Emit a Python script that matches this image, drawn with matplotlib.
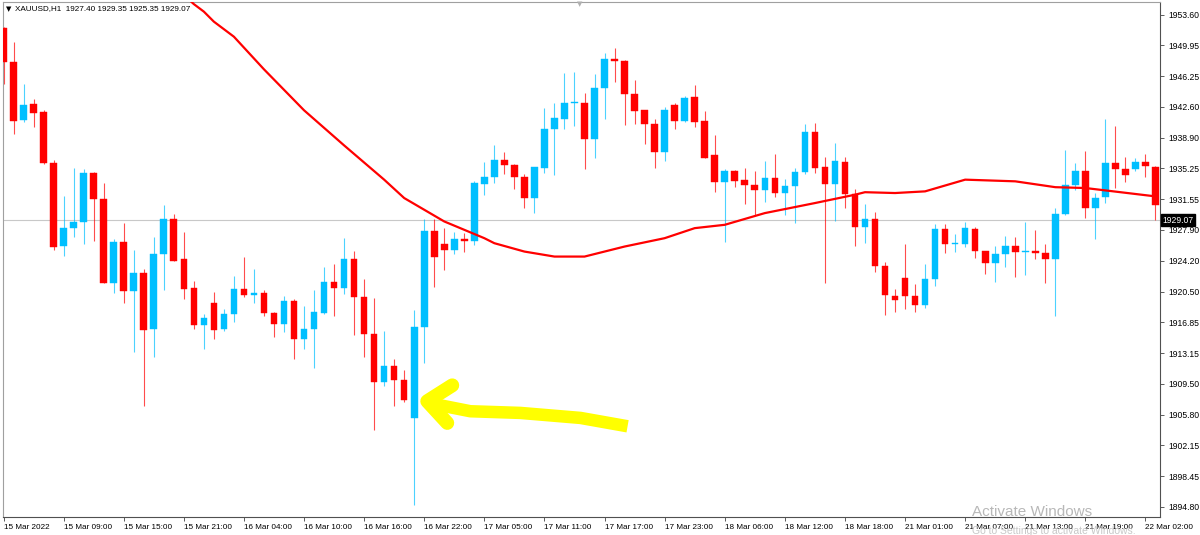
import numpy as np
import matplotlib.pyplot as plt
from matplotlib.transforms import blended_transform_factory

# XAUUSD H1 candles (bar index = hour slot)
opens = [1952.01, 1947.95, 1941.04, 1942.92, 1942.00, 1935.90, 1926.00, 1928.15, 1928.80, 1934.66,
         1931.55, 1921.57, 1926.41, 1920.58, 1922.70, 1916.00, 1925.01, 1929.16, 1924.37, 1920.90,
         1916.51, 1919.11, 1916.00, 1917.83, 1920.82, 1920.13, 1920.38, 1917.98, 1916.63, 1919.38,
         1914.87, 1916.03, 1917.98, 1921.66, 1920.97, 1924.44, 1919.86, 1915.47, 1909.65, 1911.60,
         1909.93, 1905.42, 1916.27, 1927.79, 1926.17, 1925.45, 1926.84, 1926.60, 1933.38, 1934.26,
         1936.22, 1935.69, 1934.26, 1931.67, 1935.33, 1939.93, 1941.16, 1943.04, 1943.11, 1938.80,
         1944.91, 1948.34, 1948.14, 1944.15, 1942.20, 1940.53, 1937.21, 1942.80, 1940.92, 1943.76,
         1940.86, 1936.85, 1933.62, 1934.90, 1933.86, 1933.26, 1932.70, 1934.06, 1932.27, 1933.18,
         1934.85, 1939.64, 1935.45, 1933.35, 1936.05, 1932.19, 1928.20, 1929.23, 1923.61, 1920.02,
         1922.17, 1920.02, 1918.94, 1922.01, 1927.96, 1926.20, 1926.20, 1927.96, 1925.33, 1923.89,
         1924.97, 1925.96, 1925.25, 1925.33, 1925.16, 1924.41, 1929.76, 1933.23, 1934.94, 1930.47,
         1931.86, 1935.86, 1935.18, 1935.18, 1935.98, 1935.45]
highs = [1952.20, 1950.41, 1945.31, 1943.55, 1942.24, 1936.25, 1931.95, 1935.26, 1935.14, 1934.82,
         1933.47, 1926.84, 1928.75, 1925.48, 1923.25, 1927.08, 1930.87, 1929.79, 1927.67, 1921.81,
         1917.83, 1920.42, 1918.39, 1922.37, 1924.68, 1923.25, 1920.70, 1918.10, 1920.02, 1919.62,
         1918.78, 1920.70, 1923.41, 1923.77, 1926.88, 1925.40, 1922.01, 1919.70, 1915.79, 1912.41,
         1911.13, 1918.31, 1929.16, 1929.16, 1928.08, 1927.60, 1927.56, 1933.74, 1936.01, 1938.05,
         1937.25, 1935.78, 1934.54, 1935.45, 1942.51, 1943.04, 1946.63, 1946.82, 1944.31, 1946.54,
         1949.02, 1949.62, 1948.22, 1945.83, 1942.24, 1941.12, 1942.63, 1943.04, 1943.91, 1945.23,
         1942.08, 1939.21, 1935.18, 1935.02, 1935.26, 1934.94, 1936.13, 1936.97, 1933.98, 1935.26,
         1940.53, 1940.72, 1936.65, 1938.25, 1936.65, 1932.78, 1930.99, 1930.00, 1924.08, 1920.78,
         1926.17, 1921.38, 1923.81, 1928.56, 1928.56, 1927.40, 1928.84, 1928.20, 1925.37, 1925.96,
         1927.16, 1927.08, 1928.80, 1927.88, 1926.20, 1930.47, 1937.45, 1935.93, 1937.33, 1932.27,
         1941.12, 1940.32, 1936.58, 1936.46, 1936.94, 1935.54]
lows = [1945.35, 1939.33, 1940.84, 1940.24, 1935.78, 1925.48, 1924.77, 1927.00, 1926.20, 1926.60,
        1921.53, 1920.38, 1919.18, 1913.32, 1906.82, 1912.72, 1920.70, 1924.17, 1919.59, 1916.00,
        1913.64, 1914.84, 1915.83, 1916.91, 1919.82, 1919.11, 1917.62, 1915.04, 1915.71, 1912.41,
        1913.60, 1911.40, 1917.83, 1917.62, 1920.18, 1915.28, 1912.65, 1903.95, 1909.21, 1906.85,
        1907.33, 1894.97, 1911.93, 1921.09, 1923.09, 1925.01, 1925.28, 1926.08, 1932.07, 1933.54,
        1934.58, 1932.78, 1930.47, 1929.88, 1934.73, 1934.46, 1939.93, 1940.36, 1935.18, 1936.53,
        1941.12, 1945.62, 1940.44, 1940.56, 1938.17, 1935.26, 1936.17, 1939.96, 1940.84, 1940.24,
        1936.46, 1932.46, 1926.48, 1933.06, 1930.99, 1929.67, 1931.26, 1931.79, 1929.67, 1928.75,
        1934.54, 1934.66, 1921.57, 1928.99, 1930.55, 1926.00, 1926.29, 1922.89, 1917.74, 1918.03,
        1918.39, 1918.10, 1918.58, 1921.18, 1925.09, 1925.25, 1925.88, 1924.56, 1922.65, 1921.69,
        1923.49, 1922.29, 1922.46, 1924.41, 1921.50, 1917.62, 1929.67, 1932.66, 1929.35, 1926.80,
        1931.07, 1932.94, 1933.66, 1934.97, 1934.26, 1929.07]
closes = [1947.95, 1940.96, 1942.80, 1941.91, 1935.86, 1925.88, 1928.08, 1928.87, 1934.66, 1931.59,
          1921.57, 1926.41, 1920.58, 1922.70, 1915.91, 1925.01, 1929.19, 1924.17, 1920.85, 1916.55,
          1917.31, 1915.91, 1917.83, 1920.85, 1920.10, 1920.30, 1917.98, 1916.59, 1919.38, 1914.84,
          1916.03, 1918.03, 1921.66, 1920.97, 1924.44, 1919.86, 1915.47, 1909.65, 1911.60, 1909.93,
          1907.54, 1916.27, 1927.79, 1924.68, 1925.48, 1926.84, 1926.60, 1933.47, 1934.26, 1936.25,
          1935.66, 1934.26, 1931.74, 1935.38, 1939.96, 1941.24, 1943.04, 1943.11, 1938.73, 1944.91,
          1948.34, 1948.10, 1944.15, 1942.15, 1940.53, 1937.21, 1942.27, 1940.96, 1943.71, 1940.84,
          1936.55, 1933.62, 1934.90, 1933.78, 1933.26, 1932.70, 1934.06, 1932.31, 1933.18, 1934.85,
          1939.64, 1935.33, 1933.42, 1936.13, 1932.19, 1928.24, 1929.23, 1923.57, 1920.06, 1919.47,
          1919.98, 1918.96, 1922.01, 1927.96, 1926.20, 1926.29, 1928.08, 1925.37, 1923.97, 1924.97,
          1925.96, 1925.21, 1925.33, 1925.16, 1924.41, 1929.76, 1933.23, 1934.94, 1930.47, 1931.74,
          1935.86, 1935.14, 1934.50, 1935.98, 1935.54, 1930.91]

# moving average (red line), sampled at some bars
ma_idx = [18, 19, 20, 21, 23, 26, 30, 34, 38, 40, 42, 44, 46, 48, 49, 52, 55, 58, 62, 66, 69,
          72, 76, 81, 85, 86, 89, 92, 96, 101, 105, 108, 115]
ma_val = [1956.0, 1954.9, 1954.0, 1952.8, 1951.0, 1947.1, 1942.2, 1938.0, 1933.9, 1931.7, 1930.3,
          1928.9, 1927.9, 1926.9, 1926.3, 1925.3, 1924.7, 1924.7, 1925.9, 1926.9, 1928.1,
          1928.5, 1929.9, 1931.1, 1932.1, 1932.4, 1932.3, 1932.5, 1933.9, 1933.7, 1933.0,
          1932.9, 1931.9]

price_ticks = [1953.60, 1949.95, 1946.25, 1942.60, 1938.90, 1935.25, 1931.55, 1927.90, 1924.20,
               1920.50, 1916.85, 1913.15, 1909.50, 1905.80, 1902.15, 1898.45, 1894.80]
time_labels = ["15 Mar 2022", "15 Mar 09:00", "15 Mar 15:00", "15 Mar 21:00", "16 Mar 04:00",
               "16 Mar 10:00", "16 Mar 16:00", "16 Mar 22:00", "17 Mar 05:00", "17 Mar 11:00",
               "17 Mar 17:00", "17 Mar 23:00", "18 Mar 06:00", "18 Mar 12:00", "18 Mar 18:00",
               "21 Mar 01:00", "21 Mar 07:00", "21 Mar 13:00", "21 Mar 19:00", "22 Mar 02:00"]
last_price = 1929.07

UP = "#00bfff"
DOWN = "#ff0000"
FONT = ["Liberation Sans", "DejaVu Sans"]
FS = 5.9

W, H = 1200, 535
fig = plt.figure(figsize=(W / 100, H / 100), dpi=100)
fig.patch.set_facecolor("white")
ax = fig.add_axes([3 / W, 1 - 517 / H, (1160 - 3) / W, (517 - 2) / H])

o = np.array(opens)
h = np.array(highs)
l = np.array(lows)
c = np.array(closes)
x = np.arange(len(o))
up = c >= o
cols = np.where(up, UP, DOWN)

# current price line
ax.axhline(last_price, color="#c8c8c8", lw=0.8, zorder=1)

ax.vlines(x, l, h, colors=cols, lw=0.8, alpha=0.7, zorder=2)
body_lo = np.minimum(o, c)
body_h = np.maximum(np.abs(c - o), 0.15)
ax.bar(x, body_h, bottom=body_lo, width=0.66, color=cols, edgecolor=cols, lw=0.3, zorder=3)

ax.plot(ma_idx, ma_val, color="#ff0000", lw=1.6, zorder=4)

# hand drawn yellow arrow
ax.plot([44.8, 42.3, 44.3], [1909.3, 1907.4, 1904.8], color="#ffff00", lw=10,
        solid_capstyle="round", solid_joinstyle="round", zorder=5)
ax.plot([42.8, 46.6, 51.6, 57.6, 62.3], [1907.1, 1906.2, 1906.0, 1905.4, 1904.4],
        color="#ffff00", lw=9, solid_capstyle="butt", solid_joinstyle="round", zorder=5)

ax.set_xlim(-0.05, 115.45)
ax.set_ylim(1893.55, 1955.15)

ax.yaxis.tick_right()
ax.set_yticks(price_ticks)
ax.set_yticklabels(["%.2f" % v for v in price_ticks], fontsize=6.2, family=FONT)
ax.set_xticks(np.arange(0, 6 * len(time_labels), 6))
ax.set_xticklabels(time_labels, fontsize=FS, ha="left", family=FONT)
ax.tick_params(axis="both", length=3, width=0.6, color="#404040", pad=2)
ax.tick_params(axis="y", pad=3)

for s in ["left", "top"]:
    ax.spines[s].set_color("#a0a0a0")
    ax.spines[s].set_linewidth(0.8)
for s in ["right", "bottom"]:
    ax.spines[s].set_color("#505050")
    ax.spines[s].set_linewidth(0.8)

tr = blended_transform_factory(ax.transAxes, ax.transData)
ax.text(1.002, last_price, "%.2f" % last_price, transform=tr, ha="left", va="center",
        fontsize=6.2, color="white", family=FONT,
        bbox=dict(boxstyle="square,pad=0.2", fc="black", ec="black"))

fig.text(6 / W, 1 - 9 / H, "▼", fontsize=5, color="black", va="center")
fig.text(15 / W, 1 - 9 / H, "XAUUSD,H1  1927.40 1929.35 1925.35 1929.07",
         fontsize=FS, color="black", va="center", family=FONT)
fig.text(580 / W, 1 - 4 / H, "▼", fontsize=5, color="#b0b0b0", ha="center", va="center")

fig.text(972 / W, 1 - 512 / H, "Activate Windows", fontsize=11, color="#b8b8b8",
         va="center", family=FONT)
fig.text(972 / W, 1 - 531 / H, "Go to Settings to activate Windows.", fontsize=7.5,
         color="#c8c8c8", va="center", family=FONT)

fig.savefig("out.png", dpi=100)
